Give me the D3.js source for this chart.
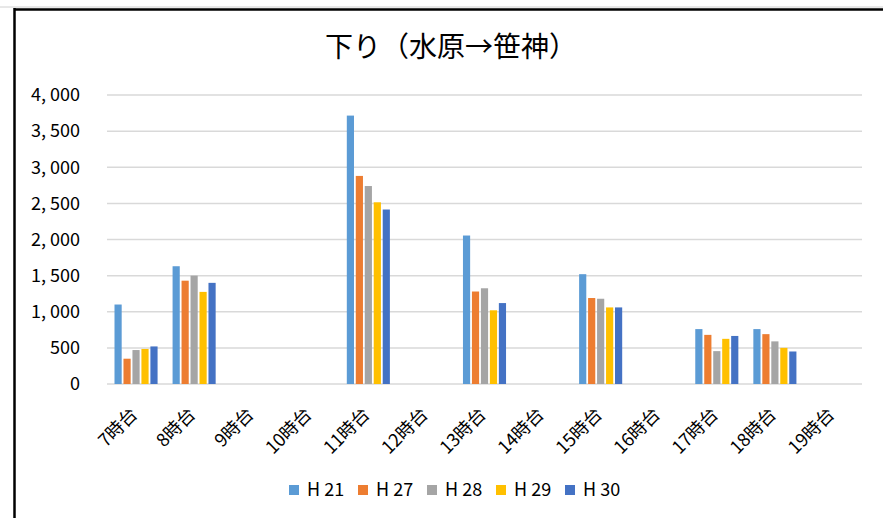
<!DOCTYPE html>
<html>
<head>
<meta charset="utf-8">
<script src="https://cdn.jsdelivr.net/npm/d3@7"></script>
<style>
  body { margin: 0; background: #fff; }
  text { font-family: "Noto Sans CJK JP", sans-serif; fill: #000; }
</style>
</head>
<body>
<div id="chart"></div>
<script>
var width = 883, height = 518;

// data
var categories = ["7時台", "8時台", "9時台", "10時台", "11時台", "12時台", "13時台",
                  "14時台", "15時台", "16時台", "17時台", "18時台", "19時台"];
var seriesNames = ["H21", "H27", "H28", "H29", "H30"];
var colors = ["#5B9BD5", "#ED7D31", "#A5A5A5", "#FFC000", "#4472C4"];
var H21 = [1100, 1630, null, null, 3715, null, 2055, null, 1520, null, 760, 760, null];
var H27 = [350, 1430, null, null, 2880, null, 1280, null, 1190, null, 680, 690, null];
var H28 = [470, 1500, null, null, 2740, null, 1325, null, 1180, null, 455, 590, null];
var H29 = [485, 1275, null, null, 2515, null, 1020, null, 1060, null, 625, 500, null];
var H30 = [520, 1400, null, null, 2415, null, 1120, null, 1060, null, 665, 450, null];
var yTicks = [0, 500, 1000, 1500, 2000, 2500, 3000, 3500, 4000];
var title = "下り（水原→笹神）";

var seriesValues = [H21, H27, H28, H29, H30];

var svg = d3.select("#chart").append("svg")
    .attr("width", width)
    .attr("height", height);

// chart frame (cut off at right/bottom like the screenshot)
svg.append("line").attr("x1", 0).attr("x2", width).attr("y1", 7).attr("y2", 7)
    .attr("stroke", "#d0d0d0").attr("stroke-width", 1);
svg.append("line").attr("x1", 14).attr("x2", width).attr("y1", 9.5).attr("y2", 9.5)
    .attr("stroke", "#000").attr("stroke-width", 2.5);
svg.append("line").attr("x1", 14.5).attr("x2", 14.5).attr("y1", 8).attr("y2", height)
    .attr("stroke", "#000").attr("stroke-width", 2.5);

var plot = { left: 107, right: 862, top: 95, bottom: 384 };

var x = d3.scaleBand()
    .domain(categories)
    .range([plot.left, plot.right]);

var x1 = d3.scaleBand()
    .domain(seriesNames)
    .range([7.5, x.bandwidth() - 7.5])
    .paddingInner(0.2);

var y = d3.scaleLinear()
    .domain([0, 4000])
    .range([plot.bottom, plot.top]);

// gridlines
svg.append("g")
  .selectAll("line")
  .data(yTicks)
  .enter().append("line")
    .attr("x1", plot.left)
    .attr("x2", plot.right)
    .attr("y1", d => y(d))
    .attr("y2", d => y(d))
    .attr("stroke", "#d9d9d9")
    .attr("stroke-width", 1.5);

// y labels
svg.append("g")
  .selectAll("text")
  .data(yTicks)
  .enter().append("text")
    .attr("x", 80)
    .attr("y", d => y(d))
    .attr("dy", "0.35em")
    .attr("text-anchor", "end")
    .style("font-size", "18px")
    .text(d => d3.format(",")(d).replace(",", ", "));

// bars
var groups = svg.append("g")
  .selectAll("g")
  .data(seriesNames)
  .enter().append("g")
    .attr("fill", (d, i) => colors[i]);

groups.selectAll("rect")
  .data((s, i) => seriesValues[i].map((v, j) => ({ s: s, cat: categories[j], v: v })).filter(d => d.v != null))
  .enter().append("rect")
    .attr("x", d => x(d.cat) + x1(d.s))
    .attr("width", x1.bandwidth())
    .attr("y", d => y(d.v))
    .attr("height", d => y(0) - y(d.v));

// x labels, rotated
svg.append("g")
  .selectAll("text")
  .data(categories)
  .enter().append("text")
    .attr("transform", d => "translate(" + (x(d) + x.bandwidth() / 2 - 2) + ",411) rotate(-45)")
    .attr("text-anchor", "end")
    .attr("dy", "0.35em")
    .style("font-size", "18px")
    .text(d => d);

// title
svg.append("text")
    .attr("x", 451)
    .attr("y", 47)
    .attr("dy", "0.35em")
    .attr("text-anchor", "middle")
    .style("font-size", "28px")
    .text(title);

// legend
var legend = svg.append("g")
  .selectAll("g")
  .data(seriesNames)
  .enter().append("g")
    .attr("transform", (d, i) => "translate(" + (289 + i * 69) + ",490)");

legend.append("rect")
    .attr("x", 0).attr("y", -5)
    .attr("width", 10).attr("height", 10)
    .attr("fill", (d, i) => colors[i]);

legend.append("text")
    .attr("x", 18)
    .attr("dy", "0.35em")
    .style("font-size", "18px")
    .text(d => d.replace("H", "H "));
</script>
</body>
</html>
